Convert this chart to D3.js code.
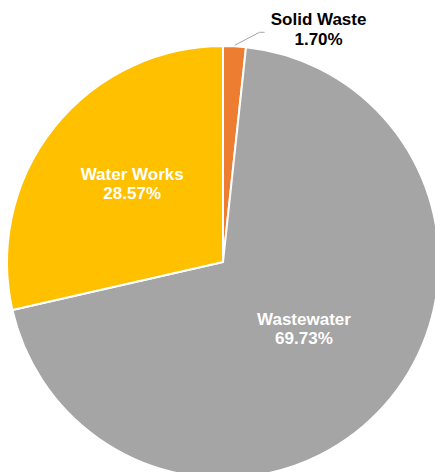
<!DOCTYPE html>
<html lang="en">
<head>
  <meta charset="utf-8" />
  <title>Pie</title>
  <script src="https://d3js.org/d3.v7.min.js"></script>
  <style>
    body { margin: 0; background: #fff; }
    text { font-family: "Liberation Sans", Arial, sans-serif; font-weight: bold; }
  </style>
</head>
<body>
  <script>
    var categories = ["Solid Waste", "Wastewater", "Water Works"];
    var shares = [1.70, 69.73, 28.57];
    var colors = ["#ED7D31", "#A5A5A5", "#FFC000"];

    var width = 435, height = 472;
    var cx = 223, cy = 262, radius = 216;

    var data = categories.map(function (c, i) {
      return { name: c, value: shares[i], color: colors[i] };
    });

    var svg = d3.select("body").append("svg")
      .attr("width", width)
      .attr("height", height);

    var g = svg.append("g")
      .attr("transform", "translate(" + cx + "," + cy + ")");

    var pie = d3.pie().sort(null).value(function (d) { return d.value; });
    var arc = d3.arc().innerRadius(0).outerRadius(radius);
    var labelArc = d3.arc().innerRadius(radius * 0.52).outerRadius(radius * 0.52);

    var arcs = pie(data);

    g.selectAll("path.slice")
      .data(arcs)
      .enter().append("path")
      .attr("class", "slice")
      .attr("d", arc)
      .attr("fill", function (d) { return d.data.color; })
      .attr("stroke", "#fff")
      .attr("stroke-width", 2)
      .attr("stroke-linejoin", "round");

    // inside labels (the two big slices)
    arcs.forEach(function (d, i) {
      if (i === 0) return;
      var c = labelArc.centroid(d);
      var t = g.append("text")
        .attr("text-anchor", "middle")
        .attr("fill", "#fff")
        .style("font-size", "17px");
      t.append("tspan").attr("x", c[0] - 3).attr("y", c[1] - 12).text(d.data.name);
      t.append("tspan").attr("x", c[0] - 3).attr("y", c[1] + 7).text(d.data.value.toFixed(2) + "%");
    });

    // outside label with leader line for the small slice
    var small = arcs[0];
    var mid = (small.startAngle + small.endAngle) / 2;
    var p0 = [Math.sin(mid) * (radius + 1), -Math.cos(mid) * (radius + 1)];
    var p1 = [p0[0] + 25, p0[1] - 13];
    var p2 = [p1[0] + 5, p1[1]];

    g.append("polyline")
      .attr("points", [p0, p1, p2].map(function (p) { return p.join(","); }).join(" "))
      .attr("fill", "none")
      .attr("stroke", "#A5A5A5")
      .attr("stroke-width", 1);

    var st = g.append("text")
      .attr("text-anchor", "middle")
      .attr("fill", "#000")
      .style("font-size", "17px");
    st.append("tspan").attr("x", p2[0] + 54).attr("y", p2[1] - 7).text(small.data.name);
    st.append("tspan").attr("x", p2[0] + 54).attr("y", p2[1] + 13).text(small.data.value.toFixed(2) + "%");
  </script>
</body>
</html>
